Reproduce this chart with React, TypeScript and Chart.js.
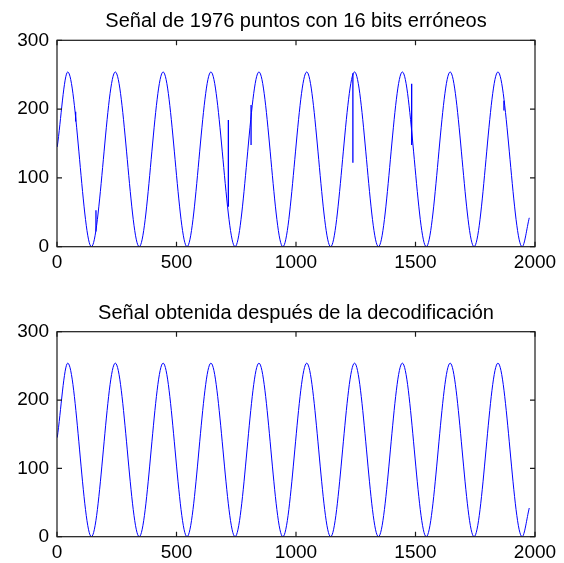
import React, { useEffect, useRef } from "react";
import { Chart, registerables } from "chart.js";

Chart.register(...registerables);

// ---- data ----
const xTicks = [0, 500, 1000, 1500, 2000];
const yTicks = [0, 100, 200, 300];

// sample index and value at the start, every crest / trough, and the end
const knotSample = [1, 45, 144, 244, 344, 444, 544, 644, 745, 845, 945, 1045, 1145, 1245, 1345, 1445, 1545, 1645, 1745, 1845, 1946, 1976];
const knotValue = [145, 254, 0, 254, 0, 254, 0, 254, 0, 254, 0, 254, 0, 254, 0, 254, 0, 254, 0, 254, 0, 42];

// erroneous samples in the first signal: sample, lowest and highest value of the spike
const spikeSample = [78, 163, 717, 812, 1238, 1484, 1870];
const spikeLow = [182, 22, 58, 148, 122, 148, 198];
const spikeHigh = [196, 53, 184, 206, 252, 237, 212];

const titleTop = "Señal de 1976 puntos con 16 bits erróneos";
const titleBottom = "Señal obtenida después de la decodificación";

const FONT = "'Liberation Sans', Arial, sans-serif";

type Geo = { top: number; height: number; areaTop: number; areaBottom: number };

function makeChart(canvas: HTMLCanvasElement, title: string, withSpikes: boolean, geo: Geo) {
  const curve = knotSample.map((s, i) => ({ x: s, y: knotValue[i] }));
  const datasets: any[] = [
    {
      data: curve,
      borderColor: "#0000ff",
      borderWidth: 1,
      pointRadius: 0,
      fill: false,
      cubicInterpolationMode: "monotone",
    },
  ];
  if (withSpikes) {
    const spikes: any[] = [];
    spikeSample.forEach((s, i) => {
      spikes.push({ x: s, y: spikeLow[i] }, { x: s, y: spikeHigh[i] }, { x: s, y: null });
    });
    datasets.push({
      data: spikes,
      borderColor: "#0000ff",
      borderWidth: 1.3,
      pointRadius: 0,
      fill: false,
      tension: 0,
      spanGaps: false,
    });
  }

  const frame = {
    id: "frame",
    afterDraw(chart: any) {
      const { ctx, chartArea } = chart;
      const { left, right, top, bottom } = chartArea;
      ctx.save();
      ctx.strokeStyle = "#1a1a1a";
      ctx.lineWidth = 1.2;
      ctx.strokeRect(left, top, right - left, bottom - top);
      const tl = 5;
      const xs = chart.scales.x;
      const ys = chart.scales.y;
      ctx.beginPath();
      xTicks.forEach((v) => {
        const px = xs.getPixelForValue(v);
        ctx.moveTo(px, bottom);
        ctx.lineTo(px, bottom - tl);
        ctx.moveTo(px, top);
        ctx.lineTo(px, top + tl);
      });
      yTicks.forEach((v) => {
        const py = ys.getPixelForValue(v);
        ctx.moveTo(left, py);
        ctx.lineTo(left + tl, py);
        ctx.moveTo(right, py);
        ctx.lineTo(right - tl, py);
      });
      ctx.stroke();
      ctx.fillStyle = "#000";
      ctx.font = `20px ${FONT}`;
      ctx.textAlign = "center";
      ctx.textBaseline = "alphabetic";
      ctx.fillText(title, (left + right) / 2, top - 13);
      ctx.restore();
    },
  };

  const xAxisHeight = geo.height - geo.areaBottom;

  return new Chart(canvas, {
    type: "line",
    data: { datasets },
    options: {
      animation: false,
      responsive: false,
      maintainAspectRatio: false,
      layout: { padding: { top: geo.areaTop, right: 29, left: 0, bottom: 0 } },
      plugins: { legend: { display: false }, tooltip: { enabled: false }, title: { display: false } },
      scales: {
        x: {
          type: "linear",
          min: 0,
          max: 2000,
          grid: { display: false, drawTicks: false },
          border: { display: false },
          afterFit: (s: any) => {
            s.height = xAxisHeight;
          },
          afterBuildTicks: (s: any) => {
            s.ticks = xTicks.map((v) => ({ value: v }));
          },
          ticks: {
            autoSkip: false,
            maxRotation: 0,
            padding: 5,
            color: "#000",
            font: { family: FONT, size: 19 },
            callback: (v: any) => String(v),
          },
        },
        y: {
          type: "linear",
          min: 0,
          max: 300,
          grid: { display: false, drawTicks: false },
          border: { display: false },
          afterFit: (s: any) => {
            s.width = 57;
          },
          afterBuildTicks: (s: any) => {
            s.ticks = yTicks.map((v) => ({ value: v }));
          },
          ticks: {
            padding: 8,
            color: "#000",
            font: { family: FONT, size: 19 },
            callback: (v: any) => String(v),
          },
        },
      },
    },
    plugins: [frame],
  } as any);
}

const geoTop: Geo = { top: 0, height: 282, areaTop: 40.3, areaBottom: 246.7 };
const geoBottom: Geo = { top: 282, height: 281, areaTop: 49.7, areaBottom: 254.7 };

export default function App() {
  const topRef = useRef<HTMLCanvasElement | null>(null);
  const botRef = useRef<HTMLCanvasElement | null>(null);

  useEffect(() => {
    const c1 = makeChart(topRef.current!, titleTop, true, geoTop);
    const c2 = makeChart(botRef.current!, titleBottom, false, geoBottom);
    return () => {
      c1.destroy();
      c2.destroy();
    };
  }, []);

  return (
    <div style={{ position: "absolute", left: 0, top: 0, width: 564, height: 563, background: "#fff", overflow: "hidden" }}>
      <canvas
        ref={topRef}
        width={564}
        height={geoTop.height}
        style={{ position: "absolute", left: 0, top: geoTop.top, width: 564, height: geoTop.height, display: "block" }}
      />
      <canvas
        ref={botRef}
        width={564}
        height={geoBottom.height}
        style={{ position: "absolute", left: 0, top: geoBottom.top, width: 564, height: geoBottom.height, display: "block" }}
      />
    </div>
  );
}
